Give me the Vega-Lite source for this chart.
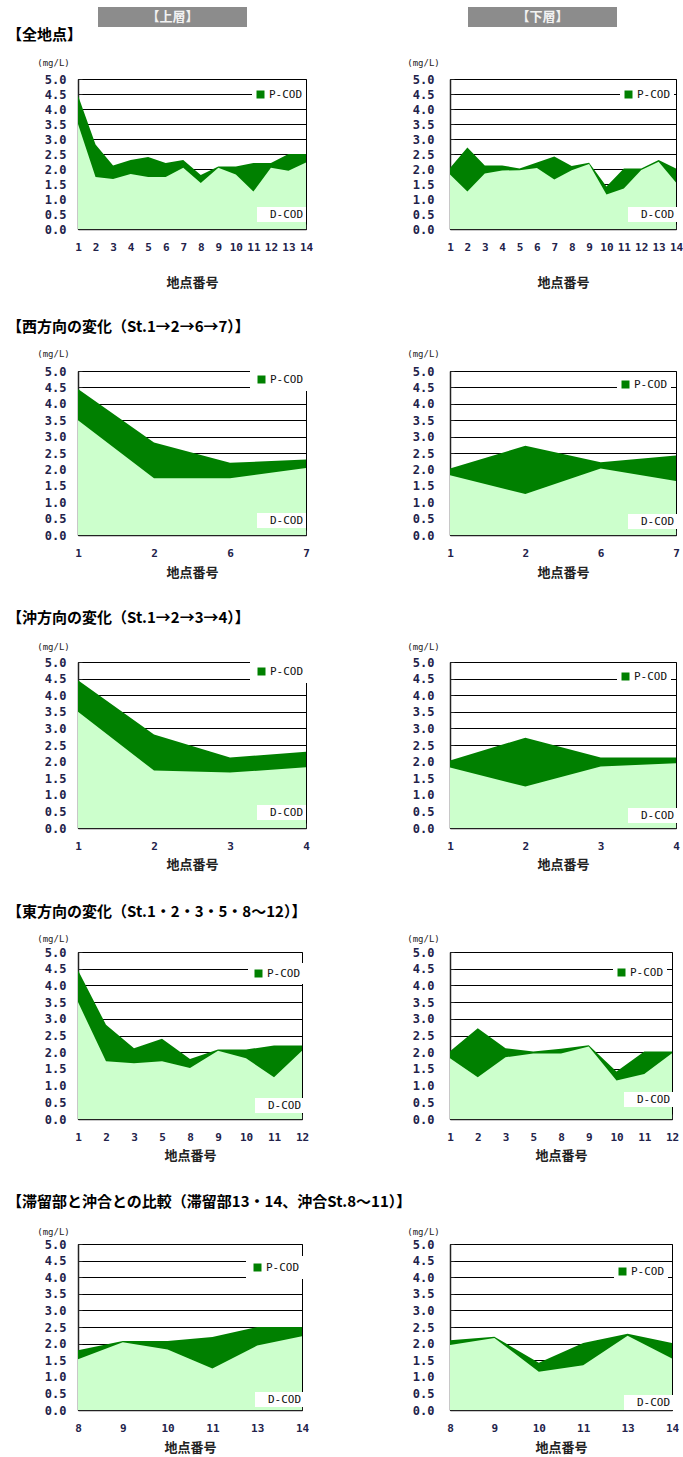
{
"$schema": "https://vega.github.io/schema/vega-lite/v6.json",
"padding": {"left": 7, "top": 7, "right": 0, "bottom": 0},
"background": "white",
"datasets": {
"upper": [{"site":1,"D":3.5,"T":4.45},{"site":2,"D":1.73,"T":2.82},{"site":3,"D":1.67,"T":2.12},{"site":4,"D":1.83,"T":2.3},{"site":5,"D":1.73,"T":2.4},{"site":6,"D":1.73,"T":2.2},{"site":7,"D":2.04,"T":2.3},{"site":8,"D":1.53,"T":1.8},{"site":9,"D":2.04,"T":2.08},{"site":10,"D":1.82,"T":2.08},{"site":11,"D":1.25,"T":2.2},{"site":12,"D":2.04,"T":2.2},{"site":13,"D":1.94,"T":2.5},{"site":14,"D":2.22,"T":2.5}],
"lower": [{"site":1,"D":1.82,"T":2.03},{"site":2,"D":1.25,"T":2.72},{"site":3,"D":1.85,"T":2.12},{"site":4,"D":1.95,"T":2.12},{"site":5,"D":1.96,"T":2.02},{"site":6,"D":2.03,"T":2.22},{"site":7,"D":1.65,"T":2.42},{"site":8,"D":1.96,"T":2.1},{"site":9,"D":2.17,"T":2.21},{"site":10,"D":1.15,"T":1.42},{"site":11,"D":1.35,"T":2.02},{"site":12,"D":1.97,"T":2.02},{"site":13,"D":2.24,"T":2.3},{"site":14,"D":1.55,"T":2.02}]
},
"spacing": -6,
"vconcat": [
{"hconcat": [
{"width":20,"height":20,"data":{"values":[{}]},"mark":"text","encoding":{"text":{"value":""}}},
{"width":149,"height":20,"view":{"fill":"#8c8c8c","stroke":null},"data":{"values":[{"t":"【上層】"}]},"mark":{"type":"text","fontSize":13,"fontWeight":"bold","color":"#f2f2f2","baseline":"middle"},"encoding":{"text":{"field":"t"}}},
{"width":221,"height":20,"data":{"values":[{}]},"mark":"text","encoding":{"text":{"value":""}}},
{"width":149,"height":20,"view":{"fill":"#8c8c8c","stroke":null},"data":{"values":[{"t":"【下層】"}]},"mark":{"type":"text","fontSize":13,"fontWeight":"bold","color":"#f2f2f2","baseline":"middle"},"encoding":{"text":{"field":"t"}}}
], "spacing": 0, "bounds": "flush"},
{"columns": 2, "align": "each", "bounds": "flush", "spacing": {"row": 0, "column": 144},
"concat": [
{"width":1,"height":52,"data":{"values":[{"t":"【全地点】"}]},"mark":{"type":"text","align":"left","baseline":"middle","dx":-71.5,"dy":-18,"fontSize":15,"fontWeight":"bold","color":"#000"},"encoding":{"text":{"field":"t"}}},
{"width":1,"height":1,"data":{"values":[{}]},"mark":"text","encoding":{"text":{"value":""}}},

{"width":228,"height":150,"view":{"stroke":"#000"},"data":{"name":"upper"},
"encoding":{"x":{"field":"site","type":"ordinal","scale":{"type":"point","padding":0},"axis":{"title":"地点番号","titleY":53}}},
"layer":[
{"mark":{"type":"area"},"encoding":{"y":{"field":"T","type":"quantitative","title":"(mg/L)","scale":{"domain":[0,5],"nice":false},"axis":{"titleX":-25,"titleY":-17,"labelPadding":16}},"color":{"datum":"P-COD","type":"nominal","scale":{"range":["#008000"]},"legend":{"title":null,"legendX":174,"legendY":7,"padding":3}}}},
{"mark":{"type":"area"},"encoding":{"y":{"field":"D","type":"quantitative","title":"(mg/L)","axis":{"titleX":-25,"titleY":-17,"labelPadding":16}},"color":{"datum":"D-COD","type":"nominal","scale":{"range":["#ccffcc"]},"legend":{"title":null,"legendX":179,"legendY":128,"padding":2,"symbolSize":0,"symbolOpacity":0,"labelOffset":0}}}}
],
"resolve":{"scale":{"color":"independent"}}},
{"width":226,"height":150,"view":{"stroke":"#000"},"data":{"name":"lower"},
"encoding":{"x":{"field":"site","type":"ordinal","scale":{"type":"point","padding":0},"axis":{"title":"地点番号","titleY":53}}},
"layer":[
{"mark":{"type":"area"},"encoding":{"y":{"field":"T","type":"quantitative","title":"(mg/L)","scale":{"domain":[0,5],"nice":false},"axis":{"titleX":-27,"titleY":-17,"labelPadding":20}},"color":{"datum":"P-COD","type":"nominal","scale":{"range":["#008000"]},"legend":{"title":null,"legendX":170,"legendY":7,"padding":3}}}},
{"mark":{"type":"area"},"encoding":{"y":{"field":"D","type":"quantitative","title":"(mg/L)","axis":{"titleX":-27,"titleY":-17,"labelPadding":20}},"color":{"datum":"D-COD","type":"nominal","scale":{"range":["#ccffcc"]},"legend":{"title":null,"legendX":178,"legendY":128,"padding":2,"symbolSize":0,"symbolOpacity":0,"labelOffset":0}}}}
],
"resolve":{"scale":{"color":"independent"}}},

{"width":1,"height":142,"data":{"values":[{"t":"【西方向の変化（St.1→2→6→7）】"}]},"mark":{"type":"text","align":"left","baseline":"middle","dx":-71.5,"dy":27,"fontSize":15,"fontWeight":"bold","color":"#000"},"encoding":{"text":{"field":"t"}}},
{"width":1,"height":1,"data":{"values":[{}]},"mark":"text","encoding":{"text":{"value":""}}},

{"width":228,"height":164,"view":{"stroke":"#000"},"data":{"name":"upper"},"transform":[{"filter":{"field":"site","oneOf":[1,2,6,7]}}],
"encoding":{"x":{"field":"site","type":"ordinal","scale":{"type":"point","padding":0},"axis":{"title":"地点番号","titleY":37}}},
"layer":[
{"mark":{"type":"area"},"encoding":{"y":{"field":"T","type":"quantitative","title":"(mg/L)","scale":{"domain":[0,5],"nice":false},"axis":{"titleX":-25,"titleY":-18,"labelPadding":16}},"color":{"datum":"P-COD","type":"nominal","scale":{"range":["#008000"]},"legend":{"title":null,"legendX":172,"legendY":-3,"padding":6}}}},
{"mark":{"type":"area"},"encoding":{"y":{"field":"D","type":"quantitative","title":"(mg/L)","axis":{"titleX":-25,"titleY":-18,"labelPadding":16}},"color":{"datum":"D-COD","type":"nominal","scale":{"range":["#ccffcc"]},"legend":{"title":null,"legendX":179,"legendY":142,"padding":2,"symbolSize":0,"symbolOpacity":0,"labelOffset":0}}}}
],
"resolve":{"scale":{"color":"independent"}}},
{"width":226,"height":164,"view":{"stroke":"#000"},"data":{"name":"lower"},"transform":[{"filter":{"field":"site","oneOf":[1,2,6,7]}}],
"encoding":{"x":{"field":"site","type":"ordinal","scale":{"type":"point","padding":0},"axis":{"title":"地点番号","titleY":37}}},
"layer":[
{"mark":{"type":"area"},"encoding":{"y":{"field":"T","type":"quantitative","title":"(mg/L)","scale":{"domain":[0,5],"nice":false},"axis":{"titleX":-27,"titleY":-18,"labelPadding":20}},"color":{"datum":"P-COD","type":"nominal","scale":{"range":["#008000"]},"legend":{"title":null,"legendX":167,"legendY":5,"padding":3}}}},
{"mark":{"type":"area"},"encoding":{"y":{"field":"D","type":"quantitative","title":"(mg/L)","axis":{"titleX":-27,"titleY":-18,"labelPadding":20}},"color":{"datum":"D-COD","type":"nominal","scale":{"range":["#ccffcc"]},"legend":{"title":null,"legendX":178,"legendY":143,"padding":2,"symbolSize":0,"symbolOpacity":0,"labelOffset":0}}}}
],
"resolve":{"scale":{"color":"independent"}}},

{"width":1,"height":127,"data":{"values":[{"t":"【沖方向の変化（St.1→2→3→4）】"}]},"mark":{"type":"text","align":"left","baseline":"middle","dx":-71.5,"dy":19.5,"fontSize":15,"fontWeight":"bold","color":"#000"},"encoding":{"text":{"field":"t"}}},
{"width":1,"height":1,"data":{"values":[{}]},"mark":"text","encoding":{"text":{"value":""}}},

{"width":228,"height":166,"view":{"stroke":"#000"},"data":{"name":"upper"},"transform":[{"filter":{"field":"site","oneOf":[1,2,3,4]}}],
"encoding":{"x":{"field":"site","type":"ordinal","scale":{"type":"point","padding":0},"axis":{"title":"地点番号","titleY":36}}},
"layer":[
{"mark":{"type":"area"},"encoding":{"y":{"field":"T","type":"quantitative","title":"(mg/L)","scale":{"domain":[0,5],"nice":false},"axis":{"titleX":-25,"titleY":-16,"labelPadding":16}},"color":{"datum":"P-COD","type":"nominal","scale":{"range":["#008000"]},"legend":{"title":null,"legendX":172,"legendY":-2,"padding":6}}}},
{"mark":{"type":"area"},"encoding":{"y":{"field":"D","type":"quantitative","title":"(mg/L)","axis":{"titleX":-25,"titleY":-16,"labelPadding":16}},"color":{"datum":"D-COD","type":"nominal","scale":{"range":["#ccffcc"]},"legend":{"title":null,"legendX":179,"legendY":143,"padding":2,"symbolSize":0,"symbolOpacity":0,"labelOffset":0}}}}
],
"resolve":{"scale":{"color":"independent"}}},
{"width":226,"height":166,"view":{"stroke":"#000"},"data":{"name":"lower"},"transform":[{"filter":{"field":"site","oneOf":[1,2,3,4]}}],
"encoding":{"x":{"field":"site","type":"ordinal","scale":{"type":"point","padding":0},"axis":{"title":"地点番号","titleY":36}}},
"layer":[
{"mark":{"type":"area"},"encoding":{"y":{"field":"T","type":"quantitative","title":"(mg/L)","scale":{"domain":[0,5],"nice":false},"axis":{"titleX":-27,"titleY":-16,"labelPadding":20}},"color":{"datum":"P-COD","type":"nominal","scale":{"range":["#008000"]},"legend":{"title":null,"legendX":167,"legendY":6,"padding":3}}}},
{"mark":{"type":"area"},"encoding":{"y":{"field":"D","type":"quantitative","title":"(mg/L)","axis":{"titleX":-27,"titleY":-16,"labelPadding":20}},"color":{"datum":"D-COD","type":"nominal","scale":{"range":["#ccffcc"]},"legend":{"title":null,"legendX":178,"legendY":146,"padding":2,"symbolSize":0,"symbolOpacity":0,"labelOffset":0}}}}
],
"resolve":{"scale":{"color":"independent"}}},

{"width":1,"height":124,"data":{"values":[{"t":"【東方向の変化（St.1・2・3・5・8～12）】"}]},"mark":{"type":"text","align":"left","baseline":"middle","dx":-71.5,"dy":22,"fontSize":15,"fontWeight":"bold","color":"#000"},"encoding":{"text":{"field":"t"}}},
{"width":1,"height":1,"data":{"values":[{}]},"mark":"text","encoding":{"text":{"value":""}}},

{"width":224,"height":167,"view":{"stroke":"#000"},"data":{"name":"upper"},"transform":[{"filter":{"field":"site","oneOf":[1,2,3,5,8,9,10,11,12]}}],
"encoding":{"x":{"field":"site","type":"ordinal","scale":{"type":"point","padding":0},"axis":{"title":"地点番号","titleY":36}}},
"layer":[
{"mark":{"type":"area"},"encoding":{"y":{"field":"T","type":"quantitative","title":"(mg/L)","scale":{"domain":[0,5],"nice":false},"axis":{"titleX":-25,"titleY":-14,"labelPadding":16}},"color":{"datum":"P-COD","type":"nominal","scale":{"range":["#008000"]},"legend":{"title":null,"legendX":170,"legendY":11,"padding":5}}}},
{"mark":{"type":"area"},"encoding":{"y":{"field":"D","type":"quantitative","title":"(mg/L)","axis":{"titleX":-25,"titleY":-14,"labelPadding":16}},"color":{"datum":"D-COD","type":"nominal","scale":{"range":["#ccffcc"]},"legend":{"title":null,"legendX":177,"legendY":146,"padding":2,"symbolSize":0,"symbolOpacity":0,"labelOffset":0}}}}
],
"resolve":{"scale":{"color":"independent"}}},
{"width":222,"height":167,"view":{"stroke":"#000"},"data":{"name":"lower"},"transform":[{"filter":{"field":"site","oneOf":[1,2,3,5,8,9,10,11,12]}}],
"encoding":{"x":{"field":"site","type":"ordinal","scale":{"type":"point","padding":0},"axis":{"title":"地点番号","titleY":36}}},
"layer":[
{"mark":{"type":"area"},"encoding":{"y":{"field":"T","type":"quantitative","title":"(mg/L)","scale":{"domain":[0,5],"nice":false},"axis":{"titleX":-27,"titleY":-14,"labelPadding":20}},"color":{"datum":"P-COD","type":"nominal","scale":{"range":["#008000"]},"legend":{"title":null,"legendX":163,"legendY":12,"padding":3}}}},
{"mark":{"type":"area"},"encoding":{"y":{"field":"D","type":"quantitative","title":"(mg/L)","axis":{"titleX":-27,"titleY":-14,"labelPadding":20}},"color":{"datum":"D-COD","type":"nominal","scale":{"range":["#ccffcc"]},"legend":{"title":null,"legendX":174,"legendY":140,"padding":2,"symbolSize":0,"symbolOpacity":0,"labelOffset":0}}}}
],
"resolve":{"scale":{"color":"independent"}}},

{"width":1,"height":125,"data":{"values":[{"t":"【滞留部と沖合との比較（滞留部13・14、沖合St.8～11）】"}]},"mark":{"type":"text","align":"left","baseline":"middle","dx":-71.5,"dy":20.5,"fontSize":15,"fontWeight":"bold","color":"#000"},"encoding":{"text":{"field":"t"}}},
{"width":1,"height":1,"data":{"values":[{}]},"mark":"text","encoding":{"text":{"value":""}}},

{"width":224,"height":166,"view":{"stroke":"#000"},"data":{"name":"upper"},"transform":[{"filter":{"field":"site","oneOf":[8,9,10,11,13,14]}}],
"encoding":{"x":{"field":"site","type":"ordinal","scale":{"type":"point","padding":0},"axis":{"title":"地点番号","titleY":37}}},
"layer":[
{"mark":{"type":"area"},"encoding":{"y":{"field":"T","type":"quantitative","title":"(mg/L)","scale":{"domain":[0,5],"nice":false},"axis":{"titleX":-25,"titleY":-13,"labelPadding":16}},"color":{"datum":"P-COD","type":"nominal","scale":{"range":["#008000"]},"legend":{"title":null,"legendX":168,"legendY":12,"padding":6}}}},
{"mark":{"type":"area"},"encoding":{"y":{"field":"D","type":"quantitative","title":"(mg/L)","axis":{"titleX":-25,"titleY":-13,"labelPadding":16}},"color":{"datum":"D-COD","type":"nominal","scale":{"range":["#ccffcc"]},"legend":{"title":null,"legendX":177,"legendY":148,"padding":2,"symbolSize":0,"symbolOpacity":0,"labelOffset":0}}}}
],
"resolve":{"scale":{"color":"independent"}}},
{"width":222,"height":166,"view":{"stroke":"#000"},"data":{"name":"lower"},"transform":[{"filter":{"field":"site","oneOf":[8,9,10,11,13,14]}}],
"encoding":{"x":{"field":"site","type":"ordinal","scale":{"type":"point","padding":0},"axis":{"title":"地点番号","titleY":37}}},
"layer":[
{"mark":{"type":"area"},"encoding":{"y":{"field":"T","type":"quantitative","title":"(mg/L)","scale":{"domain":[0,5],"nice":false},"axis":{"titleX":-27,"titleY":-13,"labelPadding":20}},"color":{"datum":"P-COD","type":"nominal","scale":{"range":["#008000"]},"legend":{"title":null,"legendX":164,"legendY":19,"padding":3}}}},
{"mark":{"type":"area"},"encoding":{"y":{"field":"D","type":"quantitative","title":"(mg/L)","axis":{"titleX":-27,"titleY":-13,"labelPadding":20}},"color":{"datum":"D-COD","type":"nominal","scale":{"range":["#ccffcc"]},"legend":{"title":null,"legendX":174,"legendY":151,"padding":2,"symbolSize":0,"symbolOpacity":0,"labelOffset":0}}}}
],
"resolve":{"scale":{"color":"independent"}}}
]}
],
"config": {
"view": {"stroke": null},
"font": "Noto Sans CJK JP",
"text": {"font": "Noto Sans CJK JP"},
"axisX": {"labelAngle": 0, "grid": false, "tickSize": -5, "tickColor": "#222", "domainColor": "#222", "domainWidth": 1.5, "labelPadding": 17.5, "labelFont": "DejaVu Sans Mono", "labelFontSize": 11, "labelFontWeight": "bold", "labelColor": "#22224a", "titleFont": "Noto Sans CJK JP", "titleFontSize": 13, "titleFontWeight": "bold", "titleColor": "#222222", "titleBaseline": "middle", "zindex": 1, "labelOverlap": false},
"axisY": {"tickCount": 10, "format": ".1f", "grid": true, "gridColor": "#000", "gridOpacity": 1, "ticks": true, "tickSize": -4, "tickColor": "#222", "domainColor": "#222", "domainWidth": 1.5, "labelFont": "DejaVu Sans Mono", "labelFontSize": 12, "labelFontWeight": "bold", "labelColor": "#22224a", "titleAngle": 0, "titleAlign": "center", "titleBaseline": "middle", "titleFont": "DejaVu Sans Mono", "titleFontSize": 9, "titleFontWeight": "normal", "titleColor": "#222222", "zindex": 1},
"legend": {"labelFont": "DejaVu Sans Mono", "labelFontSize": 11, "labelColor": "#111111", "fillColor": "#ffffff", "orient": "none", "symbolType": "square", "symbolSize": 64, "symbolStrokeWidth": 0, "labelOffset": 3}
}
}
